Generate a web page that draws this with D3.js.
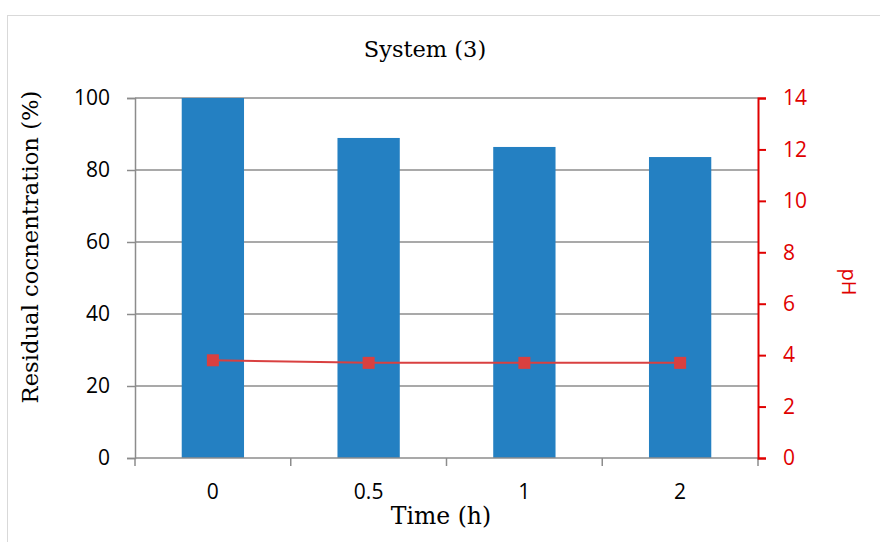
<!DOCTYPE html>
<html>
<head>
<meta charset="utf-8">
<script src="https://cdn.jsdelivr.net/npm/d3@7"></script>
<style>
  body { margin: 0; background: #fff; }
  svg { display: block; }
</style>
</head>
<body>
<svg id="chart" width="880" height="542"></svg>
<script>
var categories = ["0", "0.5", "1", "2"];
var residual = [100, 88.9, 86.4, 83.6];
var ph = [3.8, 3.7, 3.7, 3.7];
var leftTicks = [0, 20, 40, 60, 80, 100];
var rightTicks = [0, 2, 4, 6, 8, 10, 12, 14];

var svg = d3.select("#chart");
var margin = {left: 135, right: 758, top: 98, bottom: 458};
var red = "#e00000";
var sans = "'Open Sans', 'DejaVu Sans', sans-serif";
var serif = "'DejaVu Serif', 'Liberation Serif', serif";

// outer frame
svg.append("rect")
    .attr("x", 7.5).attr("y", 15.5)
    .attr("width", 1000).attr("height", 1000)
    .attr("fill", "none").attr("stroke", "#d9d9d9");

var x = d3.scaleBand()
    .domain(categories)
    .range([margin.left, margin.right])
    .paddingInner(0.6).paddingOuter(0.3);
var y = d3.scaleLinear().domain([0, 100]).range([margin.bottom, margin.top]);
var y2 = d3.scaleLinear().domain([0, 14]).range([margin.bottom, margin.top]);

// gridlines
svg.append("g").selectAll("line")
    .data(leftTicks.filter(function(d){ return d > 0; }))
    .enter().append("line")
    .attr("x1", margin.left).attr("x2", margin.right)
    .attr("y1", function(d){ return y(d); })
    .attr("y2", function(d){ return y(d); })
    .attr("stroke", "#8c8c8c").attr("stroke-width", 1.5);

// bars
svg.append("g").selectAll("rect")
    .data(residual)
    .enter().append("rect")
    .attr("x", function(d, i){ return x(categories[i]); })
    .attr("width", x.bandwidth())
    .attr("y", function(d){ return y(d); })
    .attr("height", function(d){ return y(0) - y(d); })
    .attr("fill", "#2480c2");

// left axis
var gl = svg.append("g")
    .attr("transform", "translate(" + margin.left + ",0)")
    .call(d3.axisLeft(y).tickValues(leftTicks).tickSize(8).tickPadding(17));
gl.select(".domain").attr("stroke", "#8c8c8c").attr("stroke-width", 1.5);
gl.selectAll(".tick line").attr("stroke", "#8c8c8c").attr("stroke-width", 1.5);
gl.selectAll("text").attr("font-family", sans).attr("font-size", 21).attr("fill", "#000");

// bottom axis with ticks at band boundaries
var boundaries = d3.range(categories.length + 1).map(function(i){ return margin.left + i * (margin.right - margin.left) / categories.length; });
svg.append("line")
    .attr("x1", margin.left).attr("x2", margin.right)
    .attr("y1", margin.bottom).attr("y2", margin.bottom)
    .attr("stroke", "#8c8c8c").attr("stroke-width", 1.5);
svg.append("g").selectAll("line")
    .data(boundaries)
    .enter().append("line")
    .attr("x1", function(d){ return d; }).attr("x2", function(d){ return d; })
    .attr("y1", margin.bottom).attr("y2", margin.bottom + 8)
    .attr("stroke", "#8c8c8c").attr("stroke-width", 1.5);
svg.append("g").selectAll("text")
    .data(categories)
    .enter().append("text")
    .attr("x", function(d){ return x(d) + x.bandwidth() / 2; })
    .attr("y", 499)
    .attr("text-anchor", "middle")
    .attr("font-family", sans).attr("font-size", 21)
    .text(function(d){ return d; });

// right axis
var gr = svg.append("g")
    .attr("transform", "translate(" + margin.right + ",0)")
    .call(d3.axisRight(y2).tickValues(rightTicks).tickSize(8).tickPadding(17));
gr.select(".domain").attr("stroke", red).attr("stroke-width", 2);
gr.selectAll(".tick line").attr("stroke", red).attr("stroke-width", 2);
gr.selectAll("text").attr("font-family", sans).attr("font-size", 21).attr("fill", red);

// pH line
var line = d3.line()
    .x(function(d, i){ return x(categories[i]) + x.bandwidth() / 2; })
    .y(function(d){ return y2(d); });
svg.append("path")
    .datum(ph)
    .attr("d", line)
    .attr("fill", "none")
    .attr("stroke", "#d94040").attr("stroke-width", 2);
svg.append("g").selectAll("rect")
    .data(ph)
    .enter().append("rect")
    .attr("x", function(d, i){ return x(categories[i]) + x.bandwidth() / 2 - 6; })
    .attr("y", function(d){ return y2(d) - 6; })
    .attr("width", 12).attr("height", 12)
    .attr("fill", "#d94040");

// titles
svg.append("text")
    .attr("x", 425).attr("y", 57)
    .attr("text-anchor", "middle")
    .attr("font-family", serif).attr("font-size", 22.5)
    .text("System (3)");
svg.append("text")
    .attr("x", 441).attr("y", 524)
    .attr("text-anchor", "middle")
    .attr("font-family", serif).attr("font-size", 23.5)
    .text("Time (h)");
svg.append("text")
    .attr("transform", "translate(38,247) rotate(-90)")
    .attr("text-anchor", "middle")
    .attr("font-family", serif).attr("font-size", 22.7)
    .text("Residual cocnentration (%)");
svg.append("text")
    .attr("transform", "translate(842,282) rotate(90)")
    .attr("text-anchor", "middle")
    .attr("font-family", sans).attr("font-size", 20)
    .attr("fill", red)
    .text("pH");
</script>
</body>
</html>
